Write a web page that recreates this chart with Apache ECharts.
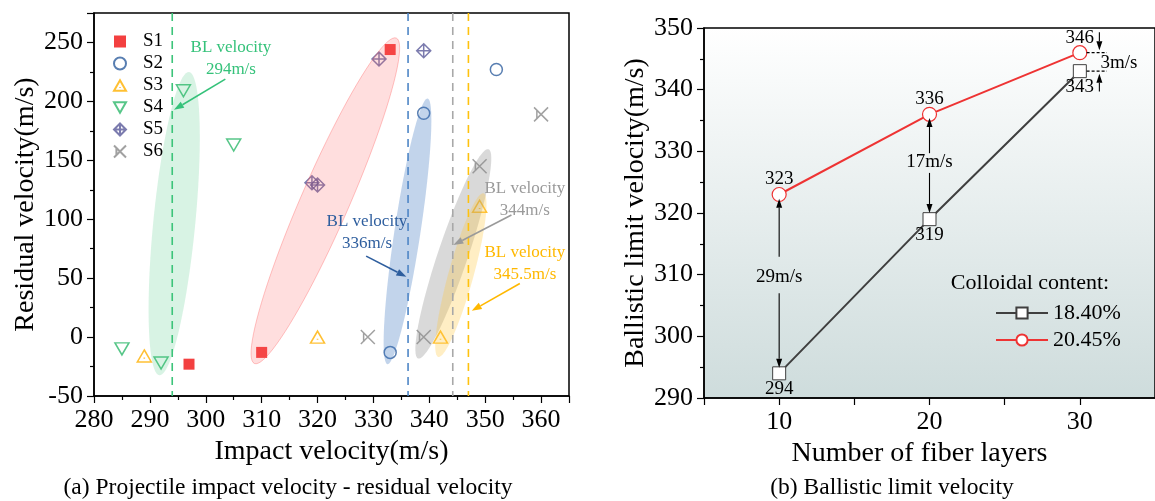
<!DOCTYPE html>
<html><head><meta charset="utf-8">
<script src="https://cdn.jsdelivr.net/npm/echarts@6/dist/echarts.min.js"></script>
<style>html,body{margin:0;padding:0;background:#fff}#c{width:1155px;height:501px}</style>
</head><body><div id="c"></div><script>
const FONT = '"Liberation Serif","Times New Roman",serif';

// ---------- (a) impact velocity vs residual velocity ----------
const S1 = [[297,-23],[310,-13],[333,244]];
const S2 = [[333,-13],[339,190],[352,227]];
const S3 = [[289,-16],[320,0],[342,0],[349,111]];
const S4 = [[285,-10],[292,-22],[296,209],[305,163]];
const S5 = [[319,131],[320,129],[331,236],[339,243]];
const S6 = [[329,0],[339,0],[349,145],[360,189]];
const scatterNames = ['S1','S2','S3','S4','S5','S6'];
const blLineX = [294, 336.2, 344.2, 347];
const blLabels = ['BL velocity\n294m/s','BL velocity\n336m/s','BL velocity\n344m/s','BL velocity\n345.5m/s'];

// ---------- (b) ballistic limit velocity ----------
const layers = [10, 20, 30];
const bl1840 = [294, 319, 343];
const bl2045 = [323, 336, 346];
const lineNames = ['18.40%', '20.45%'];

// ---------- styles / annotation geometry ----------
const scatterColors = ['#f01010','#2e5e9e','#ffb000','#2db86a','#5a5a9a','#8a8a8a'];
const scatterSymbols = [
  'rect', 'circle',
  'path://M5,0L10,8.66L0,8.66Z M5,5.5L5,6.3',
  'path://M0,0L10,0L5,8.66Z',
  'path://M5,0L10,5L5,10L0,5Z M5,0L5,10 M0,5L10,5',
  'path://M0,0L10,10 M10,0L0,10 M2,1.5L2,8.5'
];
const scatterSizes = [11, 12, [14,12], [14,12], 14, 14];
const blLineColors = ['#3cc47a','#4f86c6','#a8a8a8','#ffc20e'];
const blTextColors = ['#35c27a','#2e5e9e','#9a9a9a','#ffb800'];
const blTextPos = [[304.5,236.2],[328.85,89.0],[357.1,117.0],[357.1,62.0]];
const blArrows = [
  [[303.5,218.9],[294.3,192.8]],
  [[328.7,68.7],[335.9,51.1]],
  [[354.7,103.6],[344.3,78.1]],
  [[356.2,45.5],[347.6,22.3]]
];
const ellipses = [
  {p1:[297.0,224.9], p2:[291.7,-32.4], hw:21, fill:'rgba(60,196,122,0.2)'},
  {p1:[334.1,253.7], p2:[308.7,-22.4], hw:24, fill:'rgba(255,90,90,0.2)', stroke:'rgba(255,90,90,0.35)'},
  {p1:[339.7,202.4], p2:[332.5,-23.0], hw:13, fill:'rgba(70,125,195,0.33)'},
  {p1:[350.6,159.4], p2:[338.0,-18.2], hw:15, fill:'rgba(140,140,140,0.33)'},
  {p1:[349.7,122.0], p2:[341.6,-16.8], hw:12.5, fill:'rgba(255,200,60,0.3)'}
];
const rightArrows = [
  [[10,312.9],[10,322.3]], [[10,307.0],[10,294.9]],
  [[20,329.7],[20,335.4]], [[20,326.5],[20,320.0]],
  [[31.3,349.3],[31.3,346.4]], [[31.3,339.7],[31.3,342.6]]
];
const rightDashes = [[[30.45,346],[31.8,346]], [[30.45,343],[31.8,343]]];
const rightTexts = [[10,309.7,'29m/s'],[20,328.3,'17m/s'],[32.6,344.3,'3m/s']];

function arrowShape(api, a, b, color, lw, headL, headW) {
  const p1 = api.coord(a), p2 = api.coord(b);
  const dx = p2[0]-p1[0], dy = p2[1]-p1[1];
  const L = Math.hypot(dx, dy); const ux = dx/L, uy = dy/L;
  const bx = p2[0]-ux*headL, by = p2[1]-uy*headL;
  return [
    {type:'line', shape:{x1:p1[0],y1:p1[1],x2:bx,y2:by}, style:{stroke:color, lineWidth:lw}},
    {type:'polygon', shape:{points:[[p2[0],p2[1]],[bx-uy*headW,by+ux*headW],[bx+uy*headW,by-ux*headW]]}, style:{fill:color}}
  ];
}

const axisCommon = {
  axisLine:{onZero:false, lineStyle:{color:'#000', width:1.5}},
  axisTick:{length:7, lineStyle:{color:'#000', width:1.2}},
  minorTick:{show:true, splitNumber:2, length:4, lineStyle:{color:'#000', width:1.2}},
  splitLine:{show:false},
  axisLabel:{fontSize:26, fontFamily:FONT, color:'#000', margin:11, showMaxLabel:false},
  nameLocation:'middle',
  nameTextStyle:{fontSize:28, fontFamily:FONT, color:'#000'}
};

const scatterData = [S1,S2,S3,S4,S5,S6];
const series = [];
scatterData.forEach((d, i) => {
  const filled = i === 0;
  series.push({
    name: scatterNames[i], type:'scatter', xAxisIndex:0, yAxisIndex:0, z:3,
    data: d, symbol: scatterSymbols[i], symbolSize: scatterSizes[i],
    itemStyle: filled ? {color: scatterColors[i]} :
      {color:'rgba(0,0,0,0)', borderColor: scatterColors[i], borderWidth:1.5},
    emphasis:{disabled:true}
  });
});
// ellipses (over the points, translucent)
series.push({
  type:'custom', xAxisIndex:0, yAxisIndex:0, z:4, silent:true,
  data: ellipses.map(e => [(e.p1[0]+e.p2[0])/2, (e.p1[1]+e.p2[1])/2]),
  renderItem(params, api) {
    const e = ellipses[params.dataIndex];
    const p1 = api.coord(e.p1), p2 = api.coord(e.p2);
    const cx = (p1[0]+p2[0])/2, cy = (p1[1]+p2[1])/2;
    const a = Math.hypot(p2[0]-p1[0], p2[1]-p1[1])/2, b = e.hw;
    const ang = Math.atan2(p2[1]-p1[1], p2[0]-p1[0]);
    const pts = [];
    for (let k = 0; k < 90; k++) {
      const t = k/90*2*Math.PI, x = a*Math.cos(t), y = b*Math.sin(t);
      pts.push([cx + x*Math.cos(ang) - y*Math.sin(ang), cy + x*Math.sin(ang) + y*Math.cos(ang)]);
    }
    return {type:'polygon', shape:{points:pts}, style:{fill:e.fill, stroke:e.stroke || null, lineWidth:1}};
  }
});
// BL dashed lines
series.push({
  type:'custom', xAxisIndex:0, yAxisIndex:0, z:5, silent:true,
  data: blLineX.map(x => [x, 0]),
  renderItem(params, api) {
    const x = blLineX[params.dataIndex];
    const top = api.coord([x, 275]), bot = api.coord([x, -50]);
    return {type:'line', shape:{x1:top[0],y1:top[1],x2:bot[0],y2:bot[1]},
      style:{stroke: blLineColors[params.dataIndex], lineWidth:1.6, lineDash:[8,6]}};
  }
});
// BL arrows + texts
series.push({
  type:'custom', xAxisIndex:0, yAxisIndex:0, z:6, silent:true,
  data: blTextPos,
  renderItem(params, api) {
    const i = params.dataIndex;
    const p = api.coord(blTextPos[i]);
    const arr = blArrows[i];
    return {type:'group', children: arrowShape(api, arr[0], arr[1], blTextColors[i], 1.6, 10, 3.5).concat([
      {type:'text', x:p[0], y:p[1], style:{text: blLabels[i], fill: blTextColors[i], fontSize:17, fontFamily:FONT,
        align:'center', verticalAlign:'middle', lineHeight:22}}
    ])};
  }
});

// right chart lines
series.push({
  name: lineNames[0], type:'line', xAxisIndex:1, yAxisIndex:1, z:4,
  data: layers.map((x,i)=>[x, bl1840[i]]),
  symbol:'rect', symbolSize:13, showAllSymbol:true,
  lineStyle:{color:'#3f3f3f', width:2},
  itemStyle:{color:'#fff', borderColor:'#3f3f3f', borderWidth:1},
  label:{show:true, position:'bottom', distance:-1, fontSize:19, fontFamily:FONT, color:'#000'},
  emphasis:{disabled:true}
});
series.push({
  name: lineNames[1], type:'line', xAxisIndex:1, yAxisIndex:1, z:4,
  data: layers.map((x,i)=>[x, bl2045[i]]),
  symbol:'circle', symbolSize:14, showAllSymbol:true,
  lineStyle:{color:'#ee3333', width:2},
  itemStyle:{color:'#fff', borderColor:'#ee3333', borderWidth:1.2},
  label:{show:true, position:'top', distance:-2, fontSize:19, fontFamily:FONT, color:'#000'},
  emphasis:{disabled:true}
});
// right annotations
series.push({
  type:'custom', xAxisIndex:1, yAxisIndex:1, z:6, silent:true,
  data: [[20, 320]],
  renderItem(params, api) {
    let children = [];
    rightArrows.forEach(a => { children = children.concat(arrowShape(api, a[0], a[1], '#000', 1.1, 9, 3)); });
    rightDashes.forEach(d => {
      const p1 = api.coord(d[0]), p2 = api.coord(d[1]);
      children.push({type:'line', shape:{x1:p1[0],y1:p1[1],x2:p2[0],y2:p2[1]}, style:{stroke:'#000', lineWidth:1.2, lineDash:[3,2]}});
    });
    rightTexts.forEach(t => {
      const p = api.coord([t[0], t[1]]);
      children.push({type:'text', x:p[0], y:p[1], style:{text:t[2], fill:'#000', fontSize:19, fontFamily:FONT, align:'center', verticalAlign:'middle'}});
    });
    return {type:'group', children};
  }
});

const option = {
  backgroundColor:'#fff',
  animation:false,
  grid:[
    {left:94, top:13, width:475, height:383, show:true, borderColor:'#000', borderWidth:1.5, backgroundColor:'transparent'},
    {left:704, top:28, width:460, height:370, show:true, borderColor:'#000', borderWidth:1.5,
      backgroundColor:{type:'linear', x:0, y:0, x2:0, y2:1, colorStops:[{offset:0,color:'#ffffff'},{offset:1,color:'#cedcdc'}]}}
  ],
  xAxis:[
    Object.assign({}, axisCommon, {gridIndex:0, type:'value', min:280, max:365, interval:10,
      name:'Impact velocity(m/s)', nameGap:37}),
    Object.assign({}, axisCommon, {gridIndex:1, type:'value', min:5, max:35, interval:5,
      minorTick:{show:false},
      axisLabel:Object.assign({}, axisCommon.axisLabel, {formatter: v => (v % 10 === 0 && v > 5 && v < 35) ? String(v) : ''}),
      name:'Number of fiber layers', nameGap:37, nameTextStyle:Object.assign({}, axisCommon.nameTextStyle, {padding:[0,20,0,0]})})
  ],
  yAxis:[
    Object.assign({}, axisCommon, {gridIndex:0, type:'value', min:-50, max:275, interval:50,
      name:'Residual velocity(m/s)', nameGap:54}),
    Object.assign({}, axisCommon, {gridIndex:1, type:'value', min:290, max:350, interval:10,
      axisLabel:Object.assign({}, axisCommon.axisLabel, {showMaxLabel:true}),
      name:'Ballistic limit velocity(m/s)', nameGap:51})
  ],
  legend:[
    {data: scatterNames, orient:'vertical', left:113, top:32, padding:0, itemWidth:12, itemHeight:12, itemGap:3,
      textStyle:{fontSize:19, fontFamily:FONT, color:'#000', lineHeight:19, padding:[0,0,0,12]}, selectedMode:false},
    {data: lineNames, orient:'vertical', left:995, top:302, padding:0, itemWidth:52, itemHeight:14, itemGap:5,
      textStyle:{fontSize:22, fontFamily:FONT, color:'#000', lineHeight:22}, selectedMode:false}
  ],
  graphic:[
    {type:'text', x:288, y:488, style:{text:'(a) Projectile impact velocity - residual velocity', fontSize:23.5, fontFamily:FONT, fill:'#000', align:'center', verticalAlign:'middle'}},
    {type:'text', x:892, y:488, style:{text:'(b) Ballistic limit velocity', fontSize:23.5, fontFamily:FONT, fill:'#000', align:'center', verticalAlign:'middle'}},
    {type:'text', x:1030, y:283, z:10, style:{text:'Colloidal content:', fontSize:22, fontFamily:FONT, fill:'#000', align:'center', verticalAlign:'middle'}}
  ],
  series
};
const chart = echarts.init(document.getElementById('c'), null, {renderer:'canvas'});
chart.setOption(option);
</script></body></html>
